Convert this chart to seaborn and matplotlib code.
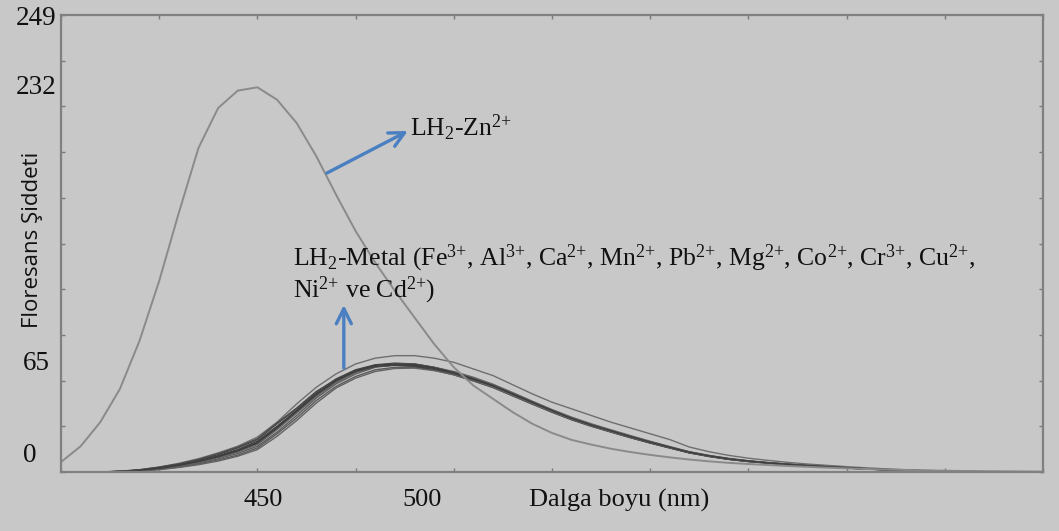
import numpy as np
import pandas as pd
import matplotlib
matplotlib.use("Agg")
import matplotlib.pyplot as plt
import matplotlib.transforms as mtransforms
import seaborn as sns

# ---------------- data ----------------
wl_zn = list(range(400, 651, 5))
zn = [6.0, 15.5, 30, 50, 79, 115, 156, 195, 219, 229.5,
      231.5, 224, 210, 190, 167, 145, 126, 109, 93, 77,
      63, 52, 44, 36, 29, 23.5, 19.3, 16.5, 14, 12,
      10.3, 8.8, 7.5, 6.4, 5.5, 4.8, 4.2, 3.6, 3.1, 2.6,
      2.2, 1.8, 1.5, 1.2, 1.0, 0.8, 0.6, 0.5, 0.4, 0.3, 0.2]

wl_m = list(range(400, 651, 5))
metal_names = ["Fe", "Al", "Ca", "Mn", "Pb", "Mg", "Co", "Cr", "Cu", "Ni", "Cd"]
Fe = [0, 0, 0, 0.3, 1.0, 2.2, 4.0, 6.2, 9.0, 12.5,
      17, 26, 36, 46, 54, 60, 63.5, 64.8, 64.3, 62.3,
      59, 55.5, 51.5, 46.5, 41.5, 36.5, 32, 28, 24.5, 21,
      17.8, 14.7, 11.8, 9.6, 7.8, 6.5, 5.5, 4.6, 3.8, 3.1,
      2.5, 1.9, 1.4, 1.0, 0.7, 0.4, 0.2, 0.1, 0, 0, 0]
Al = [0, 0, 0, 0.5, 1.4, 3.0, 5.2, 8.0, 11.5, 15.5,
      21, 30, 41, 51, 59, 65, 68.5, 70, 70, 68.5,
      66, 62, 58, 52.5, 47, 42, 38, 34, 30, 26.5,
      23, 19.5, 15, 12.2, 10, 8.3, 7, 5.8, 4.8, 4,
      3.2, 2.5, 1.9, 1.4, 1.0, 0.6, 0.4, 0.2, 0.1, 0, 0]
Ca = [0, 0, 0, 0.4, 1.2, 2.7, 4.6, 7.2, 10.5, 14.5,
      19.5, 29, 38, 48, 56, 61.5, 64.5, 65.5, 65, 63,
      60, 56.2, 52, 47, 42, 37, 32.5, 28.5, 25, 21.5,
      18.2, 15, 12, 9.8, 8, 6.6, 5.6, 4.7, 3.9, 3.2,
      2.6, 2, 1.5, 1.1, 0.7, 0.4, 0.2, 0.1, 0, 0, 0]
Mn = [0, 0, 0, 0.2, 0.8, 1.8, 3.4, 5.4, 8, 11.2,
      15.5, 24, 34, 44.5, 53, 59, 63, 64.5, 64.5, 62.8,
      60, 56.3, 52.5, 47.3, 42.2, 37.2, 32.6, 28.6, 25, 21.5,
      18.2, 15, 12, 9.8, 8, 6.6, 5.6, 4.7, 3.9, 3.2,
      2.6, 2, 1.4, 1, 0.7, 0.4, 0.2, 0.1, 0, 0, 0]
Pb = [0, 0, 0, 0.3, 1.0, 2.3, 4.1, 6.4, 9.2, 12.8,
      17.5, 26.5, 36.5, 46.5, 54.5, 60.5, 64, 65, 64.5, 62.5,
      59.5, 56, 51.8, 46.8, 41.8, 36.8, 32.2, 28.2, 24.7, 21.2,
      18, 14.9, 11.9, 9.7, 7.9, 6.6, 5.5, 4.6, 3.8, 3.1,
      2.5, 1.9, 1.4, 1, 0.7, 0.4, 0.2, 0.1, 0, 0, 0]
Mg = [0, 0, 0, 0.2, 0.7, 1.6, 3.0, 4.9, 7.2, 10.2,
      14.5, 23, 32.5, 43, 51.5, 57.5, 61.5, 63, 63, 61.5,
      59, 55, 51, 46, 41, 36, 31.6, 27.7, 24.2, 20.7,
      17.5, 14.5, 11.5, 9.4, 7.6, 6.3, 5.3, 4.4, 3.6, 3,
      2.4, 1.8, 1.3, 1, 0.6, 0.4, 0.2, 0.1, 0, 0, 0]
Co = [0, 0, 0, 0.4, 1.3, 2.9, 4.9, 7.6, 11, 15,
      20, 29.5, 38.5, 48.5, 55.5, 61, 63.5, 64.3, 63.5, 61.3,
      58.5, 54.8, 50.8, 45.8, 40.8, 36, 31.4, 27.5, 24, 20.6,
      17.4, 14.4, 11.5, 9.3, 7.6, 6.3, 5.3, 4.4, 3.6, 3,
      2.4, 1.8, 1.3, 1, 0.6, 0.4, 0.2, 0.1, 0, 0, 0]
Cr = [0, 0, 0, 0.3, 0.9, 2, 3.7, 5.9, 8.6, 12,
      16.5, 25.5, 35.5, 45.5, 54, 60, 63.8, 65, 65, 63,
      60.5, 57, 52.8, 47.8, 42.6, 37.6, 33, 29, 25.4, 21.9,
      18.5, 15.3, 12.2, 10, 8.2, 6.8, 5.7, 4.8, 4, 3.3,
      2.6, 2, 1.5, 1.1, 0.7, 0.4, 0.2, 0.1, 0, 0, 0]
Cu = [0, 0, 0, 0.3, 1.1, 2.4, 4.3, 6.7, 9.8, 13.5,
      18.5, 27.5, 37, 47, 55, 60.5, 63.5, 64.2, 63.8, 61.6,
      58.8, 55.2, 51.2, 46.2, 41.2, 36.3, 31.8, 27.8, 24.3, 20.8,
      17.6, 14.6, 11.6, 9.5, 7.7, 6.4, 5.4, 4.5, 3.7, 3.1,
      2.4, 1.8, 1.3, 1, 0.6, 0.4, 0.2, 0.1, 0, 0, 0]
Ni = [0, 0, 0, 0.1, 0.6, 1.4, 2.7, 4.4, 6.6, 9.5,
      13.5, 21.5, 31, 41.5, 50.5, 56.5, 60.5, 62.3, 62.5, 61,
      58.5, 54.8, 51, 46, 41, 36.2, 31.6, 27.7, 24.2, 20.8,
      17.6, 14.6, 11.6, 9.5, 7.7, 6.4, 5.4, 4.5, 3.7, 3.1,
      2.4, 1.8, 1.3, 1, 0.6, 0.4, 0.2, 0.1, 0, 0, 0]
Cd = [0, 0, 0, 0.3, 1.0, 2.2, 4.0, 6.3, 9.2, 12.8,
      17.8, 26.8, 36.8, 47, 55, 61, 64.3, 65, 64.8, 62.8,
      59.8, 56, 52, 47, 42, 37, 32.3, 28.3, 24.8, 21.3,
      18, 14.9, 11.9, 9.7, 7.9, 6.6, 5.5, 4.6, 3.8, 3.1,
      2.5, 1.9, 1.4, 1, 0.7, 0.4, 0.2, 0.1, 0, 0, 0]
metal_values = [Fe, Al, Ca, Mn, Pb, Mg, Co, Cr, Cu, Ni, Cd]

x_tick_text = ["450", "500"]
y_tick_text = ["249", "232", "65", "0"]
x_label = "Dalga boyu (nm)"
y_label = "Floresans Şiddeti"
zn_label = r"LH$_\text{2}$-Zn$^\text{2+}$"
metal_line1 = (r"LH$_\text{2}$-Metal (Fe$^\text{3+}$, Al$^\text{3+}$, Ca$^\text{2+}$, "
               r"Mn$^\text{2+}$, Pb$^\text{2+}$, Mg$^\text{2+}$, Co$^\text{2+}$, "
               r"Cr$^\text{3+}$, Cu$^\text{2+}$,")
metal_line2 = r"Ni$^\text{2+}$ ve Cd$^\text{2+}$)"

# ---------------- style ----------------
sns.set_theme(style="white")
BG = "#c8c8c8"
plt.rcParams["font.family"] = ["Liberation Serif", "DejaVu Serif"]
plt.rcParams["mathtext.fontset"] = "custom"
plt.rcParams["mathtext.rm"] = "Liberation Serif"
plt.rcParams["mathtext.it"] = "Liberation Serif:italic"
plt.rcParams["mathtext.bf"] = "Liberation Serif:bold"

fig = plt.figure(figsize=(10.59, 5.31), dpi=100, facecolor=BG)
ax = fig.add_axes([61 / 1059, 1 - 472 / 531, (1043 - 61) / 1059, (472 - 15) / 531])
ax.set_facecolor(BG)

df_zn = pd.DataFrame({"wl": wl_zn, "v": zn})
rows = []
for name, vals in zip(metal_names, metal_values):
    for w, v in zip(wl_m, vals):
        rows.append((name, w, v))
df_m = pd.DataFrame(rows, columns=["ion", "wl", "v"])

grays = ["#505050", "#6e6e6e", "#444444", "#5e5e5e", "#3a3a3a", "#5a5a5a",
         "#4c4c4c", "#646464", "#404040", "#626262", "#3e3e3e"]
sns.lineplot(data=df_m, x="wl", y="v", hue="ion", palette=grays, linewidth=1.0,
             estimator=None, legend=False, ax=ax)
sns.lineplot(data=df_zn, x="wl", y="v", color="#8a8a8a", linewidth=1.4,
             estimator=None, legend=False, ax=ax)

ax.set_xlim(400, 650)
ax.set_ylim(0, 275)
ax.set_xlabel("")
ax.set_ylabel("")

# ticks: evenly spaced inward marks, labels placed as in the reference
ax.set_xticks(np.linspace(400, 650, 11))
ax.set_yticks(np.linspace(0, 275, 11))
ax.set_xticklabels([])
ax.set_yticklabels([])
ax.tick_params(axis="both", which="both", direction="in", length=3, width=1,
               color="#7a7a7a", top=True, right=True, bottom=True, left=True)
for s in ax.spines.values():
    s.set_color("#808080")
    s.set_linewidth(1.6)
    s.set_visible(True)

# x tick label texts
xt = ax.get_xaxis_transform()
for xv, lab in zip([451.4, 491.9], x_tick_text):
    ax.text(xv, -0.062, lab, transform=xt, ha="center", va="center",
            fontsize=19, color="#111111")
ax.text(529 / 1059, 1 - 500 / 531, x_label, transform=fig.transFigure,
        ha="left", va="center", fontsize=19, color="#111111")

# y tick label texts
yt = mtransforms.blended_transform_factory(fig.transFigure, ax.transData)
for yv, xl, lab in zip([272.6, 231.6, 65, 10.2], [16, 16, 23, 23], y_tick_text):
    ax.text(xl / 1059, yv, lab, transform=yt, ha="left", va="center",
            fontsize=19.5, color="#111111")

fig.text(33 / 1059, 1 - 240 / 531, y_label, rotation=90, ha="center", va="center",
         fontsize=16, family=["Open Sans", "DejaVu Sans"], color="#111111")

# annotations
blue = "#4a7fc1"
ax.annotate("", xy=(488.3, 205.2), xytext=(467.7, 179.9),
            arrowprops=dict(arrowstyle="->,head_length=0.9,head_width=0.45",
                            color=blue, lw=2.4, shrinkA=0, shrinkB=0))
ax.annotate("", xy=(472, 100.5), xytext=(472, 62.6),
            arrowprops=dict(arrowstyle="->,head_length=0.9,head_width=0.45",
                            color=blue, lw=2.4, shrinkA=0, shrinkB=0))

ax.text(488.8, 207, zn_label, ha="left", va="center", fontsize=18.5, color="#111111")
ax.text(459.1, 128.5, metal_line1, ha="left", va="center", fontsize=18.5, color="#111111")
ax.text(459.1, 109.5, metal_line2, ha="left", va="center", fontsize=18.5, color="#111111")

fig.savefig("out.png", dpi=100, facecolor=BG)
